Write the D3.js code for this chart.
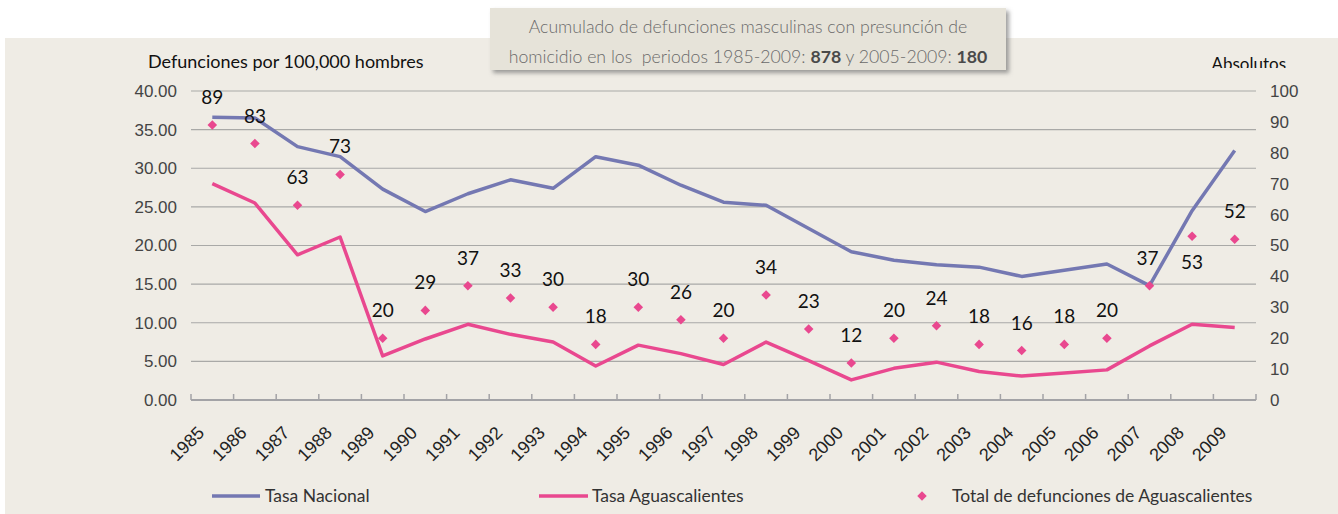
<!DOCTYPE html>
<html>
<head>
<meta charset="utf-8">
<script src="https://cdn.jsdelivr.net/npm/d3@7"></script>
<style>
  body { margin: 0; background: #fff; }
  svg { display: block; font-family: Lato, "Open Sans", sans-serif; }
</style>
</head>
<body>
<div id="chart"></div>
<script>
const W = 1338
const H = 514

// Years (categories)
const years = ["1985","1986","1987","1988","1989","1990","1991","1992","1993","1994","1995","1996","1997",
               "1998","1999","2000","2001","2002","2003","2004","2005","2006","2007","2008","2009"]

// Tasa Nacional (per 100,000 men) - left axis
const tasaNacional = [36.6, 36.5, 32.8, 31.5, 27.3, 24.4, 26.7, 28.5, 27.4, 31.5, 30.4, 27.8, 25.6,
                      25.2, 22.2, 19.2, 18.1, 17.5, 17.2, 16.0, 16.8, 17.6, 14.8, 24.5, 32.3]

// Tasa Aguascalientes (per 100,000 men) - left axis
const tasaAgs = [28.0, 25.5, 18.8, 21.1, 5.7, 7.9, 9.8, 8.5, 7.5, 4.4, 7.1, 6.0, 4.6,
                 7.5, 5.1, 2.6, 4.1, 4.9, 3.7, 3.1, 3.5, 3.9, 7.0, 9.8, 9.4]

// Total de defunciones de Aguascalientes (absolute) - right axis
const totalAgs = [89, 83, 63, 73, 20, 29, 37, 33, 30, 18, 30, 26, 20,
                  34, 23, 12, 20, 24, 18, 16, 18, 20, 37, 53, 52]

// Labels that sit below their marker instead of above
const labelBelow = ["2008"]

const leftTicks = [0, 5, 10, 15, 20, 25, 30, 35, 40]
const rightTicks = [0, 10, 20, 30, 40, 50, 60, 70, 80, 90, 100]

const colNac = "#7478b2"
const colAgs = "#e9488f"

const svg = d3.select("#chart").append("svg")
  .attr("width", W)
  .attr("height", H)

const defs = svg.append("defs")
defs.append("filter").attr("id", "shadow")
  .attr("x", "-5%").attr("y", "-20%").attr("width", "115%").attr("height", "150%")
  .append("feDropShadow")
    .attr("dx", 3).attr("dy", 3).attr("stdDeviation", 2)
    .attr("flood-color", "#777").attr("flood-opacity", 0.7)
defs.append("clipPath").attr("id", "absClip")
  .append("rect").attr("x", 1150).attr("y", 40).attr("width", 188).attr("height", 28)

// background panel
svg.append("rect")
  .attr("x", 5).attr("y", 38)
  .attr("width", W - 5).attr("height", H - 38)
  .attr("fill", "#efece5")

// scales
const x = d3.scaleBand().domain(years).range([191, 1256])
const yL = d3.scaleLinear().domain([0, 40]).range([400, 91])
const yR = d3.scaleLinear().domain([0, 100]).range([400, 91])
const cx = d => x(d) + x.bandwidth() / 2

// gridlines
svg.append("g")
  .selectAll("line")
  .data(leftTicks.filter(d => d > 0))
  .join("line")
    .attr("x1", 191).attr("x2", 1256)
    .attr("y1", d => yL(d)).attr("y2", d => yL(d))
    .attr("stroke", "#a9a9a7")
    .attr("stroke-width", 1.2)

// left axis
const gLeft = svg.append("g")
  .attr("transform", "translate(191,0)")
  .call(d3.axisLeft(yL).tickValues(leftTicks).tickFormat(d3.format(".2f")).tickSize(0).tickPadding(14))
gLeft.select(".domain").remove()
gLeft.selectAll("text").attr("font-size", 17).attr("fill", "#444").attr("font-weight", 300)

// right axis
const gRight = svg.append("g")
  .attr("transform", "translate(1256,0)")
  .call(d3.axisRight(yR).tickValues(rightTicks).tickSize(0).tickPadding(14))
gRight.select(".domain").remove()
gRight.selectAll("text").attr("font-size", 17).attr("fill", "#444").attr("font-weight", 300)

// bottom axis line and ticks at band edges
svg.append("line")
  .attr("x1", 191).attr("x2", 1256)
  .attr("y1", 400).attr("y2", 400)
  .attr("stroke", "#a3a3a6").attr("stroke-width", 2)
svg.append("g")
  .selectAll("line")
  .data(years.map(d => x(d)).concat([1256]))
  .join("line")
    .attr("x1", d => d).attr("x2", d => d)
    .attr("y1", 394).attr("y2", 400)
    .attr("stroke", "#a3a3a6").attr("stroke-width", 1.5)

// year labels
const gBottom = svg.append("g")
  .attr("transform", "translate(0,400)")
  .call(d3.axisBottom(x).tickSize(0).tickPadding(0))
gBottom.select(".domain").remove()
gBottom.selectAll("text")
  .attr("font-size", 18)
  .attr("fill", "#222")
  .attr("font-weight", 300)
  .attr("text-anchor", "end")
  .attr("dy", 0)
  .attr("transform", "translate(-7,34) rotate(-45)")
  .attr("y", 0)

// lines
const lineNac = d3.line().x((d, i) => cx(years[i])).y(d => yL(d))
svg.append("path")
  .attr("d", lineNac(tasaNacional))
  .attr("fill", "none").attr("stroke", colNac).attr("stroke-width", 3.5)
  .attr("stroke-linejoin", "round")

svg.append("path")
  .attr("d", lineNac(tasaAgs))
  .attr("fill", "none").attr("stroke", colAgs).attr("stroke-width", 3.5)
  .attr("stroke-linejoin", "round")

// diamonds
const diamond = d3.symbol().type(d3.symbolDiamond2).size(58)
svg.append("g")
  .selectAll("path")
  .data(totalAgs)
  .join("path")
    .attr("d", diamond)
    .attr("transform", (d, i) => `translate(${cx(years[i])},${yR(d)})`)
    .attr("fill", colAgs)

// data labels
svg.append("g")
  .selectAll("text")
  .data(totalAgs)
  .join("text")
    .attr("x", (d, i) => cx(years[i]) - (years[i] === "2007" ? 2 : 0))
    .attr("y", (d, i) => yR(d) + (labelBelow.includes(years[i]) ? 33 : -21))
    .attr("text-anchor", "middle")
    .attr("font-size", 19)
    .attr("fill", "#111")
    .text(d => d)

// axis titles
svg.append("text")
  .attr("x", 148).attr("y", 68)
  .attr("font-size", 18).attr("fill", "#111")
  .text("Defunciones por 100,000 hombres")

svg.append("text")
  .attr("x", 1286).attr("y", 70)
  .attr("text-anchor", "end")
  .attr("font-size", 17).attr("fill", "#111")
  .attr("clip-path", "url(#absClip)")
  .text("Absolutos")

// title box
svg.append("rect")
  .attr("x", 490).attr("y", 8)
  .attr("width", 516).attr("height", 62)
  .attr("fill", "#e6e3d9")
  .attr("filter", "url(#shadow)")

const title = svg.append("g").attr("font-size", 17.7).attr("fill", "#6a6a6a").attr("font-weight", 300)
title.append("text")
  .attr("x", 748).attr("y", 33)
  .attr("text-anchor", "middle")
  .text("Acumulado de defunciones masculinas con presunción de")
const t2 = title.append("text")
  .attr("x", 748).attr("y", 63)
  .attr("text-anchor", "middle")
  .attr("xml:space", "preserve")
t2.append("tspan").text("homicidio en los  periodos 1985-2009: ")
t2.append("tspan").attr("font-weight", 700).attr("fill", "#4a4a4a").text(d3.sum(totalAgs))
t2.append("tspan").text(" y 2005-2009: ")
t2.append("tspan").attr("font-weight", 700).attr("fill", "#4a4a4a").text(d3.sum(totalAgs.slice(20)))

// legend
const legend = svg.append("g").attr("font-size", 17.5).attr("fill", "#333")
legend.append("line").attr("x1", 212).attr("x2", 260).attr("y1", 496).attr("y2", 496)
  .attr("stroke", colNac).attr("stroke-width", 3.5)
legend.append("text").attr("x", 265).attr("y", 502).text("Tasa Nacional")
legend.append("line").attr("x1", 539).attr("x2", 588).attr("y1", 496).attr("y2", 496)
  .attr("stroke", colAgs).attr("stroke-width", 3.5)
legend.append("text").attr("x", 592).attr("y", 502).text("Tasa Aguascalientes")
legend.append("path").attr("d", diamond).attr("transform", "translate(922,496)").attr("fill", colAgs)
legend.append("text").attr("x", 952).attr("y", 502).text("Total de defunciones de Aguascalientes")
</script>
</body>
</html>
